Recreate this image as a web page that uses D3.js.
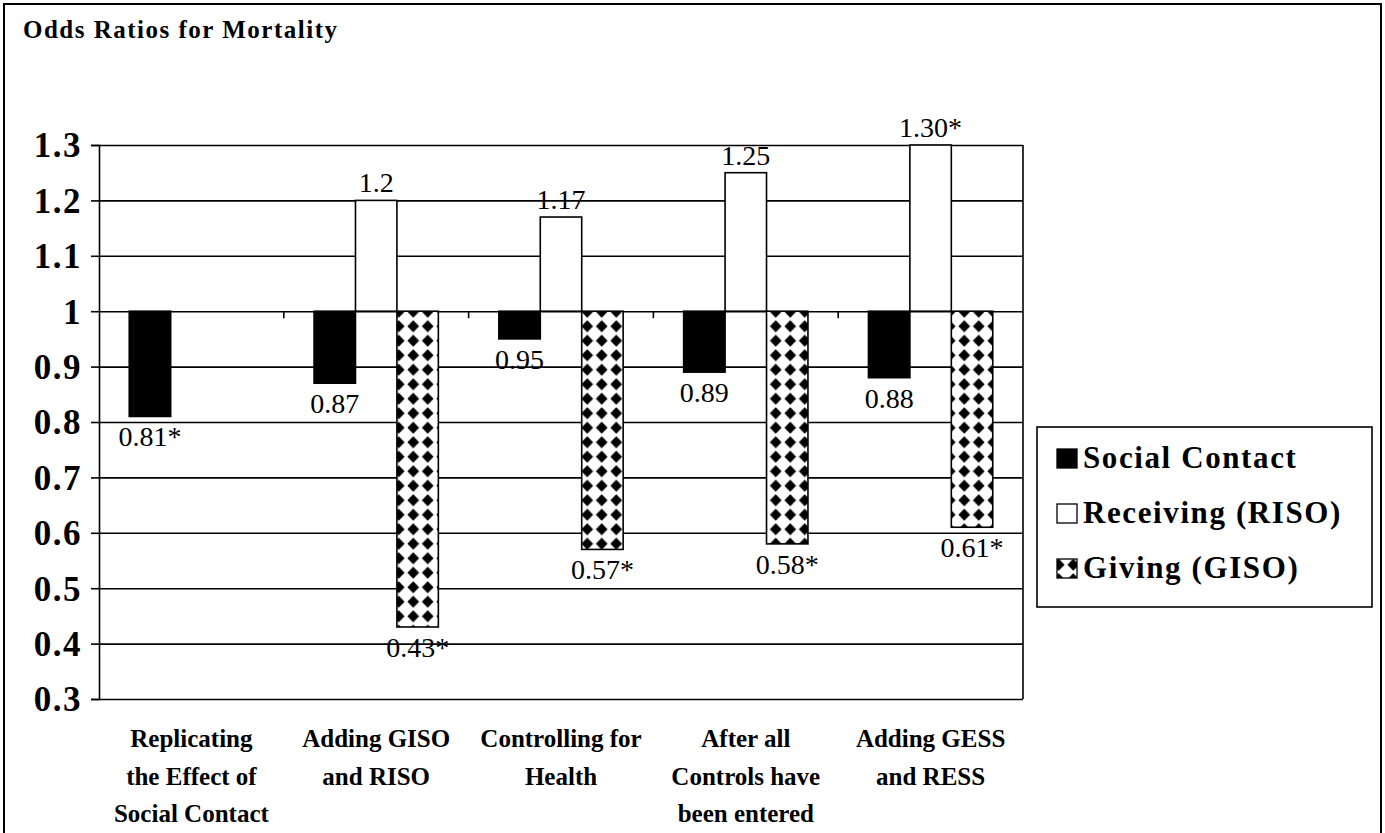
<!DOCTYPE html>
<html>
<head>
<meta charset="utf-8">
<script src="https://cdn.jsdelivr.net/npm/d3@7"></script>
<style>
    body { margin: 0; background: #fff; }
    svg text { font-family: "Liberation Serif", "Times New Roman", "DejaVu Serif", serif; fill: #000; }
</style>
</head>
<body>
<div id="odds-chart"></div>
<script>

// chart data
var categoryLines = [
    ["Replicating", "the Effect of", "Social Contact"],
    ["Adding GISO", "and RISO"],
    ["Controlling for", "Health"],
    ["After all", "Controls have", "been entered"],
    ["Adding GESS", "and RESS"]
];
var seriesNames = ["Social Contact", "Receiving (RISO)", "Giving (GISO)"];

var socialContact = [0.81, 0.87, 0.95, 0.89, 0.88];
var receiving     = [null, 1.20, 1.17, 1.25, 1.30];
var giving        = [null, 0.43, 0.57, 0.58, 0.61];

var socialLabels    = ["0.81*", "0.87", "0.95", "0.89", "0.88"];
var receivingLabels = [null, "1.2", "1.17", "1.25", "1.30*"];
var givingLabels    = [null, "0.43*", "0.57*", "0.58*", "0.61*"];

var yTicks      = [0.3, 0.4, 0.5, 0.6, 0.7, 0.8, 0.9, 1.0, 1.1, 1.2, 1.3];
var yTickLabels = ["0.3", "0.4", "0.5", "0.6", "0.7", "0.8", "0.9", "1", "1.1", "1.2", "1.3"];
var baseValue = 1.0;

var gConfig = {
    width : 1385,
    height : 833,
    fontFamily : "'Liberation Serif', 'Times New Roman', 'DejaVu Serif', serif",
    plot : { left : 99, right : 1023, top : 145, bottom : 699 }
};

//---------------------------------------------------------------
function drawChart(){
    var p = gConfig.plot;
    var svg = d3.select("#odds-chart").append("svg")
        .attr("width", gConfig.width)
        .attr("height", gConfig.height)
        .attr("font-family", gConfig.fontFamily);

    // pattern for the Giving series
    var pat = svg.append("defs").append("pattern")
        .attr("id", "diamonds")
        .attr("patternUnits", "userSpaceOnUse")
        .attr("width", 14.5).attr("height", 14.5)
        .attr("x", 0).attr("y", 0);
    pat.append("rect").attr("width", 14.5).attr("height", 14.5).attr("fill", "#fff");
    pat.append("path")
        .attr("d", "M7.25,1.2 L13.1,7.25 L7.25,13.3 L1.4,7.25 Z")
        .attr("fill", "#000");

    // outer frame
    svg.append("rect")
        .attr("x", 4).attr("y", 4)
        .attr("width", 1377).attr("height", 860)
        .attr("fill", "none").attr("stroke", "#000").attr("stroke-width", 2);

    svg.append("text")
        .attr("x", 23).attr("y", 38)
        .style("font-size", "25px").style("font-weight", "bold")
        .style("letter-spacing", "1.5px")
        .text("Odds Ratios for Mortality");

    var y = d3.scaleLinear().domain([0.3, 1.3]).range([p.bottom, p.top]);
    var x0 = d3.scaleBand()
        .domain(d3.range(categoryLines.length))
        .range([p.left, p.right]);
    var x1 = d3.scaleBand()
        .domain(seriesNames)
        .range([0, x0.bandwidth()])
        .paddingOuter(0.73);

    // gridlines
    svg.append("g")
        .attr("transform", "translate(" + p.left + ",0)")
        .call(d3.axisLeft(y).tickValues(yTicks).tickSize(-(p.right - p.left)).tickFormat(""))
        .call(function(g){
            g.select(".domain").remove();
            g.selectAll("line").attr("stroke", "#000").attr("stroke-width", 1.6);
        });

    // right border
    svg.append("line")
        .attr("x1", p.right).attr("x2", p.right)
        .attr("y1", p.top).attr("y2", p.bottom)
        .attr("stroke", "#000").attr("stroke-width", 1.6);

    // y axis with labels
    svg.append("g")
        .attr("transform", "translate(" + p.left + ",0)")
        .call(d3.axisLeft(y).tickValues(yTicks).tickSize(8).tickPadding(9)
            .tickFormat(function(d, i){ return yTickLabels[i]; }))
        .call(function(g){
            g.attr("font-family", null);
            g.select(".domain").attr("stroke", "#000").attr("stroke-width", 1.6);
            g.selectAll("line").attr("stroke", "#000").attr("stroke-width", 1.6);
            g.selectAll("text")
                .attr("fill", "#000")
                .style("font-size", "35px").style("font-weight", "bold")
                .style("letter-spacing", "1.5px")
                .attr("dy", "0.34em");
        });

    // small category ticks on the 1.0 line
    svg.append("g").selectAll("line")
        .data(d3.range(1, categoryLines.length))
        .enter().append("line")
        .attr("x1", function(d){ return x0(d); })
        .attr("x2", function(d){ return x0(d); })
        .attr("y1", y(baseValue)).attr("y2", y(baseValue) + 7)
        .attr("stroke", "#000").attr("stroke-width", 1.6);

    var series = [
        { name : seriesNames[0], values : socialContact, labels : socialLabels, fill : "#000" },
        { name : seriesNames[1], values : receiving, labels : receivingLabels, fill : "#fff" },
        { name : seriesNames[2], values : giving, labels : givingLabels, fill : "url(#diamonds)" }
    ];

    series.forEach(function(s){
        var items = s.values.map(function(v, i){ return { i : i, v : v, label : s.labels[i] }; })
            .filter(function(d){ return d.v !== null; });

        svg.append("g").selectAll("rect")
            .data(items)
            .enter().append("rect")
            .attr("x", function(d){ return x0(d.i) + x1(s.name); })
            .attr("width", x1.bandwidth())
            .attr("y", function(d){ return y(Math.max(d.v, baseValue)); })
            .attr("height", function(d){ return Math.abs(y(d.v) - y(baseValue)); })
            .attr("fill", s.fill)
            .attr("stroke", "#000").attr("stroke-width", 1.6);

        svg.append("g").selectAll("text")
            .data(items)
            .enter().append("text")
            .attr("x", function(d){ return x0(d.i) + x1(s.name) + x1.bandwidth() / 2; })
            .attr("y", function(d){ return d.v >= baseValue ? y(d.v) - 8 : y(d.v) + 30; })
            .attr("text-anchor", "middle")
            .style("font-size", "28px")
            .text(function(d){ return d.label; });
    });

    // category labels
    var cat = svg.append("g").selectAll("text")
        .data(categoryLines)
        .enter().append("text")
        .attr("text-anchor", "middle")
        .style("font-size", "25px").style("font-weight", "bold");
    cat.each(function(lines, i){
        d3.select(this).selectAll("tspan")
            .data(lines)
            .enter().append("tspan")
            .attr("x", x0(i) + x0.bandwidth() / 2)
            .attr("y", function(d, j){ return 747 + j * 37.5; })
            .text(function(d){ return d; });
    });

    // legend
    var lg = svg.append("g").attr("transform", "translate(1037,427)");
    lg.append("rect")
        .attr("width", 335).attr("height", 180)
        .attr("fill", "#fff").attr("stroke", "#000").attr("stroke-width", 1.6);
    series.forEach(function(s, i){
        var base = 41 + i * 55;
        lg.append("rect")
            .attr("x", 20).attr("y", base - 19)
            .attr("width", 20).attr("height", 19)
            .attr("fill", s.fill)
            .attr("stroke", "#000").attr("stroke-width", 1.3);
        lg.append("text")
            .attr("x", 46).attr("y", base)
            .style("font-size", "31px").style("font-weight", "bold")
            .style("letter-spacing", "1.6px")
            .text(s.name);
    });
}

drawChart();
</script>
</body>
</html>
